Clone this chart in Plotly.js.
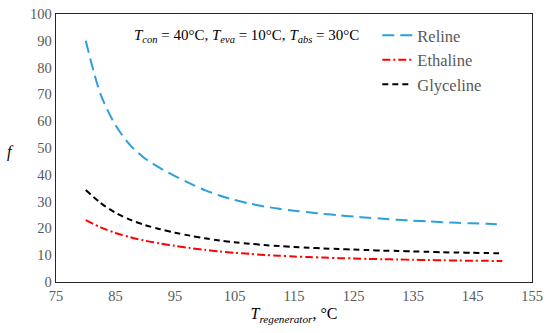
<!DOCTYPE html>
<html>
<head>
<meta charset="utf-8">
<script src="https://cdn.plot.ly/plotly-3.0.1.min.js"></script>
<style>html,body{margin:0;padding:0;background:#fff;}#chart{width:550px;height:333px;}</style>
</head>
<body>
<div id="chart"></div>
<script>
const seriesNames = ["Reline", "Ethaline", "Glyceline"];
const tRegen = [80, 82.5, 85, 87.5, 90, 92.5, 95, 97.5, 100, 102.5, 105, 107.5, 110, 112.5, 115, 117.5, 120, 122.5, 125, 127.5, 130, 132.5, 135, 137.5, 140, 142.5, 145, 147.5, 150];
const reline    = [90, 70, 58.5, 51, 46, 42.5, 39.5, 36.8, 34.3, 32.3, 30.6, 29.3, 28.2, 27.3, 26.6, 26.0, 25.4, 24.9, 24.4, 24.0, 23.6, 23.2, 22.9, 22.6, 22.3, 22.1, 21.9, 21.7, 21.5];
const ethaline  = [23.1, 20.4, 18.3, 16.7, 15.4, 14.4, 13.5, 12.7, 12.0, 11.4, 10.9, 10.5, 10.1, 9.8, 9.5, 9.3, 9.1, 8.9, 8.8, 8.6, 8.5, 8.4, 8.3, 8.2, 8.1, 8.0, 7.95, 7.9, 7.8];
const glyceline = [34.3, 29.5, 25.8, 23.2, 21.2, 19.7, 18.4, 17.3, 16.3, 15.5, 14.8, 14.3, 13.8, 13.4, 13.1, 12.8, 12.5, 12.3, 12.1, 11.9, 11.7, 11.6, 11.4, 11.3, 11.1, 11.0, 10.9, 10.8, 10.7];
const xTicks = [75, 85, 95, 105, 115, 125, 135, 145, 155];
const yTicks = [0, 10, 20, 30, 40, 50, 60, 70, 80, 90, 100];

const serif = "Liberation Serif, Times New Roman, serif";
const traces = [
  {x: tRegen, y: reline, name: seriesNames[0], mode: "lines", line: {color: "#2b9fe0", width: 2, dash: "12px,6px", shape: "spline", smoothing: 0.8}},
  {x: tRegen, y: ethaline, name: seriesNames[1], mode: "lines", line: {color: "#ff0000", width: 2, dash: "8px,3px,2px,3px", shape: "spline", smoothing: 0.8}},
  {x: tRegen, y: glyceline, name: seriesNames[2], mode: "lines", line: {color: "#000000", width: 2, dash: "6px,4px", shape: "spline", smoothing: 0.8}}
];

const layout = {
  width: 550, height: 333,
  margin: {l: 56, r: 18, t: 14, b: 51},
  paper_bgcolor: "#fff", plot_bgcolor: "#fff",
  font: {family: serif, color: "#595959", size: 14},
  showlegend: true,
  legend: {x: 0.675, y: 0.985, xanchor: "left", yanchor: "top", bgcolor: "rgba(0,0,0,0)",
           font: {family: serif, size: 16.5, color: "#595959"}, tracegroupgap: 0},
  xaxis: {range: [75, 155], tickvals: xTicks, ticktext: xTicks.map(String), showgrid: false, zeroline: false,
          showline: true, mirror: true, linecolor: "#262626", linewidth: 1.3, ticks: "",
          tickfont: {family: serif, size: 14.5, color: "#595959"},
          title: {text: "<i>T</i><sub><i>regenerator</i></sub>, °C", font: {family: serif, size: 16, color: "#000"}, standoff: 5}},
  yaxis: {range: [0, 100], tickvals: yTicks, ticktext: yTicks.map(String), showgrid: false, zeroline: false,
          showline: true, mirror: true, linecolor: "#262626", linewidth: 1.3, ticks: "",
          tickfont: {family: serif, size: 14.5, color: "#595959"}},
  annotations: [
    {xref: "paper", yref: "paper", x: (246-56)/476, y: (282-36)/268, xanchor: "center", yanchor: "middle", showarrow: false,
     text: "<i>T</i><sub><i>con</i></sub> = 40°C, <i>T</i><sub><i>eva</i></sub> = 10°C, <i>T</i><sub><i>abs</i></sub> = 30°C",
     font: {family: serif, size: 15, color: "#000"}},
    {xref: "paper", yref: "paper", x: (10-56)/476, y: (282-152)/268, xanchor: "center", yanchor: "middle", showarrow: false,
     text: "<i>f</i>", font: {family: serif, size: 16, color: "#000"}}
  ]
};

Plotly.newPlot("chart", traces, layout, {displayModeBar: false, staticPlot: true});
</script>
</body>
</html>
